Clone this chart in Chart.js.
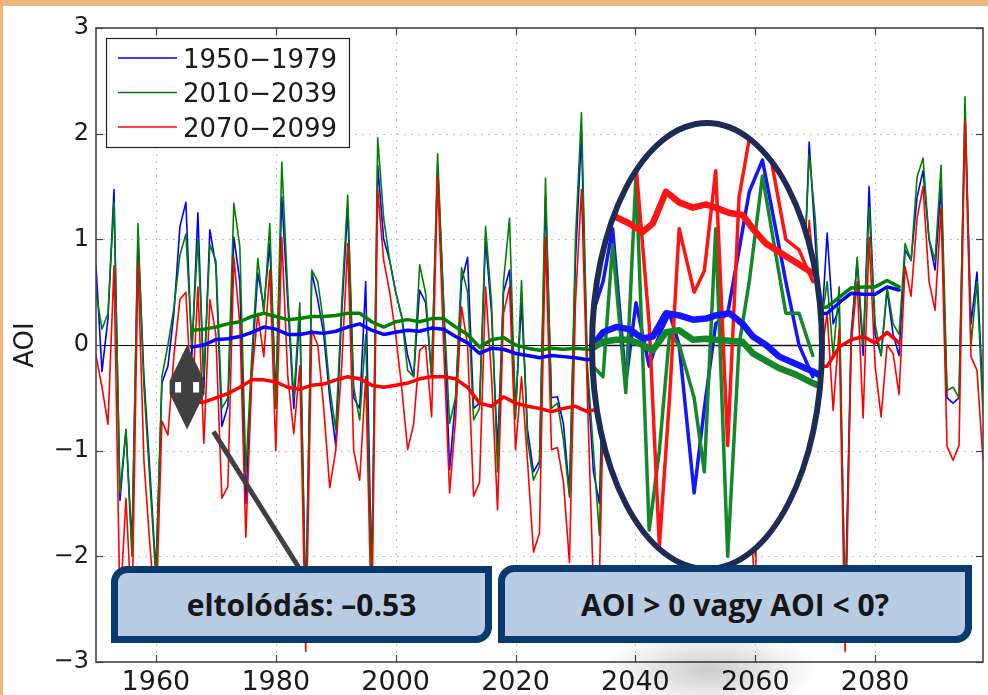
<!DOCTYPE html>
<html>
<head>
<meta charset="utf-8">
<title>AOI</title>
<script src="https://cdn.jsdelivr.net/npm/chart.js@4.4.0/dist/chart.umd.min.js"></script>
<style>
  html, body { margin: 0; padding: 0; }
  body { width: 988px; height: 695px; background: #efb57f; position: relative; overflow: hidden; }
  #paper { position: absolute; left: 3px; top: 6px; right: 0; bottom: 0; background: #fff; }
  canvas { position: absolute; left: 0; top: 0; }
  #lupe { clip-path: ellipse(113px 221px at 707px 346px); }
  #ring { position: absolute; left: 589px; top: 120px; width: 236px; height: 452px; box-sizing: border-box;
          border: 6px solid #1d2b57; border-radius: 50%; }
  #shadow { position: absolute; left: 600px; top: 630px; width: 220px; height: 80px;
            background: radial-gradient(ellipse at center, rgba(0,0,0,0.2) 0%, rgba(0,0,0,0.07) 45%, rgba(0,0,0,0) 70%); }
  .box { position: absolute; box-sizing: border-box; border: 7px solid #083a6f; background: #b8cce4;
         border-radius: 16px 0 16px 0; font: bold 30px "Open Sans", sans-serif; color: #161616;
         display: flex; align-items: center; justify-content: center; }
  #box1 { left: 111px; top: 566px; width: 381px; height: 77px; }
  #box2 { left: 498px; top: 565px; width: 474px; height: 78px; }
</style>
</head>
<body>
<div id="paper"></div>
<canvas id="aoi" width="988" height="695"></canvas>
<canvas id="lupe" width="988" height="695"></canvas>
<div id="ring"></div>
<div id="shadow"></div>
<div class="box" id="box1">eltolódás: –0.53</div>
<div class="box" id="box2">AOI &gt; 0 vagy AOI &lt; 0?</div>
<script>
// évek 1950..2098
var years = [];
for (var yr = 1950; yr <= 2098; yr++) years.push(yr);

var xTickValues = [1960, 1980, 2000, 2020, 2040, 2060, 2080];
var yTickValues = [-3, -2, -1, 0, 1, 2, 3];

var labelBlue = '1950\u22121979';
var labelGreen = '2010\u22122039';
var labelRed = '2070\u22122099';

// éves AOI értékek
var blueAnnual = [
  0.75, -0.25, 0.25, 1.47, -1.47, -0.8, -1.9, 1.0, -0.3, -1.2,
  -2.15, -0.36, -0.2, 0.3, 1.12, 1.35, -0.1, 1.25, -0.4, 1.09,
  0.75, -0.77, -0.58, 1.02, 0.6, -1.5, -0.2, 0.68, 0.36, 0.96,
  -0.5, 1.4, 0.4, -0.6, 0.3, -2.5, 0.69, 0.43, 0.1, -0.5,
  -0.95, 0.3, 1.3, -0.5, -0.6, 0.6, -2.2, 1.7, 1.0, 0.8,
  0.5, 0.27, -0.1, -0.3, 0.52, 0.4, -0.3, 1.7, 0.4, -1.18,
  -0.5, 0.6, 0.83, -0.6, -0.55, 1.0, 0.3, -1.0, 0.5, 0.71,
  -0.6, 0.4, -0.8, -1.2, -1.1, 1.4, -0.5, -0.49, -0.75, -1.4,
  0.8, 2.0, -0.3, -1.2, -1.5, 0.6, -0.3, 1.2, 0.2, -0.9,
  0.5, 1.0, -0.4, 0.3, -1.2, 0.8, 0.1, -0.6, 1.4, 0.3,
  -0.8, 0.6, -0.2, 1.1, -1.0, 0.4, 0.9, -0.5, 0.2, -0.7,
  -1.9, 1.2, 0.5, -0.3, 0.8, 0.3, -0.6, 1.0, 0.4, 1.92,
  1.0, 0.1, 1.06, 0.2, 0.35, -2.5, 0.1, 0.8, -0.1, 1.5,
  0.1, -0.1, 0.52, 0.1, -0.1, 0.9, 0.8, 1.4, 1.65, 1.0,
  0.71, 1.5, -0.5, -0.55, -0.5, 2.2, 0.2, 0.69, -0.5
];
var greenAnnual = [
  0.5, 0.15, 0.3, 1.35, -1.4, -0.8, -2.0, 1.15, -0.4, -1.3,
  -2.2, -0.3, 0.0, 0.35, 0.85, 1.05, 0.0, 1.0, -0.3, 0.95,
  0.8, -0.6, -0.5, 1.34, 0.93, -1.2, -0.1, 0.82, 0.3, 1.15,
  -0.6, 1.73, 0.5, -0.5, 0.4, -2.6, 0.71, 0.6, 0.2, -0.4,
  -0.8, 0.4, 1.42, -0.4, -0.71, 0.1, -2.3, 1.96, 1.2, 0.8,
  0.5, 0.27, -0.24, -0.3, 0.76, 0.49, -0.3, 1.81, 0.4, -0.74,
  -0.5, 0.73, 0.5, -0.71, -0.6, 1.12, 0.4, -1.2, 0.6, 1.2,
  -0.7, 0.61, -0.9, -1.28, -1.15, 1.58, -0.6, -0.55, -0.9, -1.44,
  1.0, 2.2, -0.2, -1.0, -1.8, 0.7, -0.2, 1.3, 0.1, -1.0,
  0.6, 0.9, -0.5, 0.2, -1.1, 0.9, 0.2, -0.7, 1.5, 0.2,
  -0.6, 0.7, -0.3, 1.0, -1.2, 0.5, 1.0, -0.4, 0.3, -0.8,
  -2.0, 1.1, 0.4, -0.2, 0.9, 0.2, -0.5, 1.1, 0.5, 1.8,
  1.2, 0.2, 0.6, -0.1, 0.55, -2.6, 0.0, 0.83, 0.0, 1.3,
  0.2, -0.1, 0.55, 0.2, 0.1, 0.96, 0.8, 1.59, 1.77, 1.0,
  0.8, 1.7, -0.43, -0.4, -0.5, 2.35, 0.0, 0.6, -0.65
];
var redAnnual = [
  -0.1, -0.4, -0.75, 0.75, -2.5, -1.45, -2.6, 0.78, -1.1, -1.9,
  -2.6, -0.72, -0.85, -0.1, 0.43, 0.5, -0.6, 0.55, -0.93, 0.43,
  0.1, -1.45, -1.34, 0.83, 0.2, -1.82, -0.3, 0.3, -0.11, 0.71,
  -1.0, 1.02, -0.3, -0.84, -0.2, -2.9, 0.14, 0.0, -0.6, -1.35,
  -1.0, -0.2, 0.96, -1.0, -1.28, -0.3, -2.7, 1.47, 0.8, 0.5,
  0.1, -0.4, -0.99, -0.75, -0.05, 0.0, -0.68, 1.59, 0.0, -1.4,
  -0.7, 0.36, 0.0, -1.43, -1.3, 0.55, -0.3, -1.56, 0.3, 0.55,
  -0.99, -0.3, -1.1, -1.96, -1.78, 1.02, -0.99, -0.97, -1.3, -2.06,
  0.4, 1.47, -0.5, -2.3, -2.2, 0.2, -0.8, 0.9, -0.5, -1.5,
  0.1, 0.6, -1.0, -0.3, -1.7, 0.4, -0.4, -1.2, 1.0, -0.2,
  -1.3, 0.2, -0.9, 0.6, -1.6, -0.1, 0.5, -1.0, -0.3, -1.4,
  -2.4, 0.8, 0.0, -0.7, 0.4, -0.2, -1.0, 0.6, 0.2, 1.18,
  0.6, -0.1, 0.3, -0.62, 0.15, -2.9, 0.0, 0.6, -0.69, 1.02,
  -0.2, -0.68, 0.0, -0.08, -0.47, 0.74, 0.46, 1.2, 1.5, 0.6,
  0.33, 1.3, -0.96, -1.09, -0.95, 2.13, -0.11, -0.24, -1.09
];

// csúszóátlagok, kétévente 1966..2084
var smoothYears = [];
for (var sy = 1966; sy <= 2084; sy += 2) smoothYears.push(sy);
var blueSmooth = [
  -0.02, 0.0, 0.05, 0.06, 0.08, 0.12, 0.17, 0.15, 0.1, 0.1,
  0.12, 0.11, 0.13, 0.17, 0.2, 0.14, 0.1, 0.12, 0.14, 0.13,
  0.16, 0.15, 0.08, 0.02, -0.08, -0.03, -0.04, -0.08, -0.1, -0.12,
  -0.1, -0.11, -0.12, -0.14, -0.1, -0.05, 0.0, 0.05, 0.05, 0.1,
  0.12, 0.15, 0.15, 0.18, 0.2, 0.2, 0.22, 0.24, 0.25, 0.26,
  0.27, 0.28, 0.29, 0.3, 0.4, 0.49, 0.48, 0.48, 0.55, 0.52
];
var greenSmooth = [
  0.14, 0.15, 0.17, 0.2, 0.22, 0.27, 0.3, 0.27, 0.24, 0.25,
  0.27, 0.27, 0.28, 0.3, 0.3, 0.22, 0.17, 0.22, 0.24, 0.22,
  0.25, 0.25, 0.17, 0.1, -0.02, 0.05, 0.07, 0.0, -0.03, -0.05,
  -0.03, -0.04, -0.03, -0.04, -0.05, 0.0, 0.05, 0.1, 0.1, 0.15,
  0.15, 0.2, 0.2, 0.2, 0.25, 0.25, 0.3, 0.3, 0.3, 0.3,
  0.32, 0.34, 0.35, 0.36, 0.45, 0.54, 0.55, 0.55, 0.61, 0.55
];
var redSmooth = [
  -0.55, -0.54, -0.5, -0.46, -0.4, -0.33, -0.33, -0.35, -0.4, -0.42,
  -0.38, -0.37, -0.33, -0.3, -0.32, -0.38, -0.4, -0.38, -0.36, -0.32,
  -0.3, -0.3, -0.32, -0.4, -0.55, -0.58, -0.49, -0.55, -0.58, -0.6,
  -0.63, -0.6, -0.58, -0.63, -0.6, -0.55, -0.5, -0.45, -0.4, -0.38,
  -0.35, -0.33, -0.3, -0.3, -0.28, -0.27, -0.26, -0.25, -0.24, -0.23,
  -0.22, -0.21, -0.2, -0.2, -0.02, 0.05, 0.08, 0.02, 0.12, 0.02
];

// nagyított részlet (lupe)
var lupeX = [2032.9, 2034.6, 2036.2, 2038.4, 2040.1, 2042.3, 2044.0, 2045.7, 2047.3, 2049.8,
             2051.5, 2053.4, 2055.4, 2057.3, 2059.0, 2061.2, 2065.1, 2067.3, 2069.6];
var lupeBlue = [0.3, 0.6, 1.1, -0.35, 0.4, -0.2, 0.1, 0.3, 0.0, -1.4,
                -0.6, 0.2, 0.3, 0.9, 1.45, 1.75, 0.6, 0.0, -0.3];
var lupeGreen = [-0.2, -0.3, 0.95, -0.45, 1.6, -1.75, -1.0, 0.1, 0.0, -0.5,
                 -1.2, 1.1, -2.0, 0.0, 0.6, 1.6, 0.3, 0.3, -0.1];
var lupeRed = [0.7, 1.0, 1.3, 1.5, 1.7, 0.2, -1.9, -0.5, 1.1, 0.5,
               0.7, 1.65, -0.95, 1.4, 1.95, 2.2, 1.0, 0.9, 0.6];
var lupeSmoothX = [2032.3, 2034.6, 2036.8, 2039.0, 2041.2, 2042.9, 2045.1, 2047.3, 2049.6, 2051.8,
                   2053.4, 2055.7, 2057.9, 2059.6, 2061.8, 2064.0, 2066.8, 2069.6, 2071.2];
var lupeBlueSmooth = [-0.05, 0.12, 0.17, 0.15, 0.06, 0.08, 0.3, 0.28, 0.24, 0.25,
                      0.28, 0.3, 0.2, 0.08, 0.0, -0.11, -0.18, -0.25, -0.3];
var lupeGreenSmooth = [-0.05, 0.03, 0.05, 0.05, 0.0, -0.05, 0.12, 0.14, 0.05, 0.06,
                       0.05, 0.04, 0.03, -0.08, -0.15, -0.22, -0.28, -0.36, -0.4];
var lupeRedSmooth = [null, null, 1.21, 1.15, 1.07, 1.15, 1.45, 1.35, 1.3, 1.33,
                     1.3, 1.25, 1.23, 1.1, 0.96, 0.88, 0.78, 0.68, null];

// eltolódás nyíl és a dobozhoz vezető vonal
var shiftArrow = { year: 1965.2, from: 0, to: -0.8 };
var pointer = { x0: 1969.6, y0: -0.82, x1: 1984, y1: -2.12 };

var BLUE = 'rgb(0,0,255)', GREEN = 'rgb(0,128,0)', RED = 'rgb(255,0,0)';

function pts(xs, ys) {
  return xs.map(function (x, i) { return { x: x, y: ys[i] }; });
}

function line(label, data, color, width, order, inLegend) {
  return { label: label, data: data, borderColor: color, borderWidth: width, order: order,
           inLegend: inLegend, pointRadius: 0, fill: false, tension: 0, spanGaps: false };
}

function scaleOptions(textColor) {
  return {
    x: {
      type: 'linear', min: 1950, max: 2098,
      afterBuildTicks: function (s) { s.ticks = xTickValues.map(function (v) { return { value: v }; }); },
      afterFit: function (s) { s.height = 33; },
      grid: { display: false, drawTicks: false },
      border: { display: false },
      ticks: { font: { family: 'DejaVu Sans', size: 27 }, color: textColor, padding: 5,
               maxRotation: 0, autoSkip: false,
               callback: function (v) { return String(v); } }
    },
    y: {
      type: 'linear', min: -3, max: 3,
      afterBuildTicks: function (s) { s.ticks = yTickValues.map(function (v) { return { value: v }; }); },
      afterFit: function (s) { s.width = 96; },
      grid: { display: false, drawTicks: false },
      border: { display: false },
      ticks: { font: { family: 'DejaVu Sans', size: 24 }, color: textColor, padding: 7,
               callback: function (v) { return v < 0 ? '\u2212' + Math.abs(v) : String(v); } },
      title: { display: true, text: 'AOI', color: textColor, font: { family: 'DejaVu Sans', size: 26 },
               padding: { top: 11, bottom: 0 } }
    }
  };
}

function hline(ctx, x0, y0, x1, y1) {
  ctx.beginPath(); ctx.moveTo(x0, y0); ctx.lineTo(x1, y1); ctx.stroke();
}

// rács, nulla vonal, keret, befelé álló osztások
var frame = {
  id: 'frame',
  beforeDatasetsDraw: function (chart) {
    var ctx = chart.ctx, a = chart.chartArea, x = chart.scales.x, y = chart.scales.y;
    ctx.save();
    ctx.strokeStyle = '#c4c4c4'; ctx.lineWidth = 1; ctx.setLineDash([2, 5]);
    xTickValues.forEach(function (v) {
      var px = Math.round(x.getPixelForValue(v)) + 0.5;
      hline(ctx, px, a.top, px, a.bottom);
    });
    yTickValues.forEach(function (v) {
      if (v === 0 || v === -3 || v === 3) return;
      var py = Math.round(y.getPixelForValue(v)) + 0.5;
      hline(ctx, a.left, py, a.right, py);
    });
    ctx.setLineDash([]);
    ctx.strokeStyle = '#000';
    var y0 = Math.round(y.getPixelForValue(0)) + 0.5;
    hline(ctx, a.left, y0, a.right, y0);
    ctx.restore();
  },
  afterDatasetsDraw: function (chart) {
    var ctx = chart.ctx, a = chart.chartArea, x = chart.scales.x, y = chart.scales.y;
    ctx.save();
    ctx.strokeStyle = '#444'; ctx.lineWidth = 1.6;
    ctx.strokeRect(a.left, a.top, a.right - a.left, a.bottom - a.top);
    ctx.lineWidth = 1.2;
    xTickValues.forEach(function (v) {
      var px = Math.round(x.getPixelForValue(v)) + 0.5;
      hline(ctx, px, a.bottom, px, a.bottom - 7);
      hline(ctx, px, a.top, px, a.top + 7);
    });
    yTickValues.forEach(function (v) {
      var py = Math.round(y.getPixelForValue(v)) + 0.5;
      hline(ctx, a.left, py, a.left + 7, py);
      hline(ctx, a.right, py, a.right - 7, py);
    });

    // kettős nyíl
    var cx = x.getPixelForValue(shiftArrow.year);
    var top = y.getPixelForValue(shiftArrow.from), bot = y.getPixelForValue(shiftArrow.to);
    var hw = 17.5, head = 36, mid = bot - top - 2 * head;
    ctx.fillStyle = '#404040';
    ctx.beginPath(); ctx.moveTo(cx, top); ctx.lineTo(cx + hw, top + head); ctx.lineTo(cx - hw, top + head); ctx.closePath(); ctx.fill();
    ctx.beginPath(); ctx.moveTo(cx, bot); ctx.lineTo(cx + hw, bot - head); ctx.lineTo(cx - hw, bot - head); ctx.closePath(); ctx.fill();
    ctx.fillRect(cx - hw, top + head - 0.5, 2 * hw, mid + 1);
    ctx.fillStyle = '#fff';
    ctx.fillRect(cx - 12, top + head + 1, 6, mid - 2);
    ctx.fillRect(cx + 6, top + head + 1, 6, mid - 2);

    // mutató vonal
    ctx.strokeStyle = '#404040'; ctx.lineWidth = 5;
    hline(ctx, x.getPixelForValue(pointer.x0), y.getPixelForValue(pointer.y0),
          x.getPixelForValue(pointer.x1), y.getPixelForValue(pointer.y1));
    ctx.restore();
  },
  afterDraw: function (chart) {
    var ctx = chart.ctx;
    ctx.save();
    ctx.fillStyle = '#fff';
    ctx.fillRect(106.5, 38.5, 243, 109);
    ctx.strokeStyle = '#222'; ctx.lineWidth = 1.2;
    ctx.strokeRect(106.5, 38.5, 243, 109);
    ctx.font = '26px "DejaVu Sans"';
    ctx.textBaseline = 'alphabetic';
    chart.data.datasets.filter(function (d) { return d.inLegend; }).forEach(function (d, i) {
      var ly = 58 + i * 34.5;
      ctx.strokeStyle = d.borderColor; ctx.lineWidth = 1.5;
      hline(ctx, 118, ly, 177, ly);
      ctx.fillStyle = '#1a1a1a';
      ctx.fillText(d.label, 183, ly + 9.5);
    });
    ctx.restore();
  }
};

var lupeBack = {
  id: 'lupeBack',
  beforeDraw: function (chart) {
    var ctx = chart.ctx;
    ctx.save();
    ctx.fillStyle = '#fff';
    ctx.fillRect(0, 0, chart.width, chart.height);
    ctx.restore();
  },
  beforeDatasetsDraw: function (chart) {
    var ctx = chart.ctx, a = chart.chartArea, y = chart.scales.y;
    ctx.save();
    ctx.strokeStyle = '#111'; ctx.lineWidth = 1.5;
    var y0 = Math.round(y.getPixelForValue(0)) + 0.5;
    hline(ctx, a.left, y0, a.right, y0);
    ctx.restore();
  }
};

var baseOptions = function (textColor) {
  return {
    responsive: false, animation: false, devicePixelRatio: 1,
    layout: { padding: { top: 28, right: 5, left: 0, bottom: 0 } },
    plugins: { legend: { display: false }, tooltip: { enabled: false } },
    elements: { point: { radius: 0 }, line: { borderJoinStyle: 'round', borderCapStyle: 'round' } },
    scales: scaleOptions(textColor)
  };
};

new Chart(document.getElementById('aoi'), {
  type: 'line',
  data: {
    datasets: [
      line(labelBlue, pts(years, blueAnnual), BLUE, 1.6, 6, true),
      line(labelGreen, pts(years, greenAnnual), GREEN, 1.6, 5, true),
      line(labelRed, pts(years, redAnnual), RED, 1.6, 4, true),
      line('blue mean', pts(smoothYears, blueSmooth), BLUE, 3.5, 3, false),
      line('green mean', pts(smoothYears, greenSmooth), GREEN, 3.5, 2, false),
      line('red mean', pts(smoothYears, redSmooth), RED, 3.5, 1, false)
    ]
  },
  options: baseOptions('#1a1a1a'),
  plugins: [frame]
});

new Chart(document.getElementById('lupe'), {
  type: 'line',
  data: {
    datasets: [
      line('blue', pts(lupeX, lupeBlue), 'rgb(20,20,255)', 3.5, 6, false),
      line('green', pts(lupeX, lupeGreen), 'rgb(20,135,40)', 3.5, 5, false),
      line('red', pts(lupeX, lupeRed), 'rgb(255,20,20)', 3.5, 4, false),
      line('blue mean', pts(lupeSmoothX, lupeBlueSmooth), 'rgb(20,20,255)', 6.5, 3, false),
      line('green mean', pts(lupeSmoothX, lupeGreenSmooth), 'rgb(20,135,40)', 6.5, 2, false),
      line('red mean', pts(lupeSmoothX, lupeRedSmooth), 'rgb(255,20,20)', 6.5, 1, false)
    ]
  },
  options: baseOptions('rgba(0,0,0,0)'),
  plugins: [lupeBack]
});
</script>
</body>
</html>
